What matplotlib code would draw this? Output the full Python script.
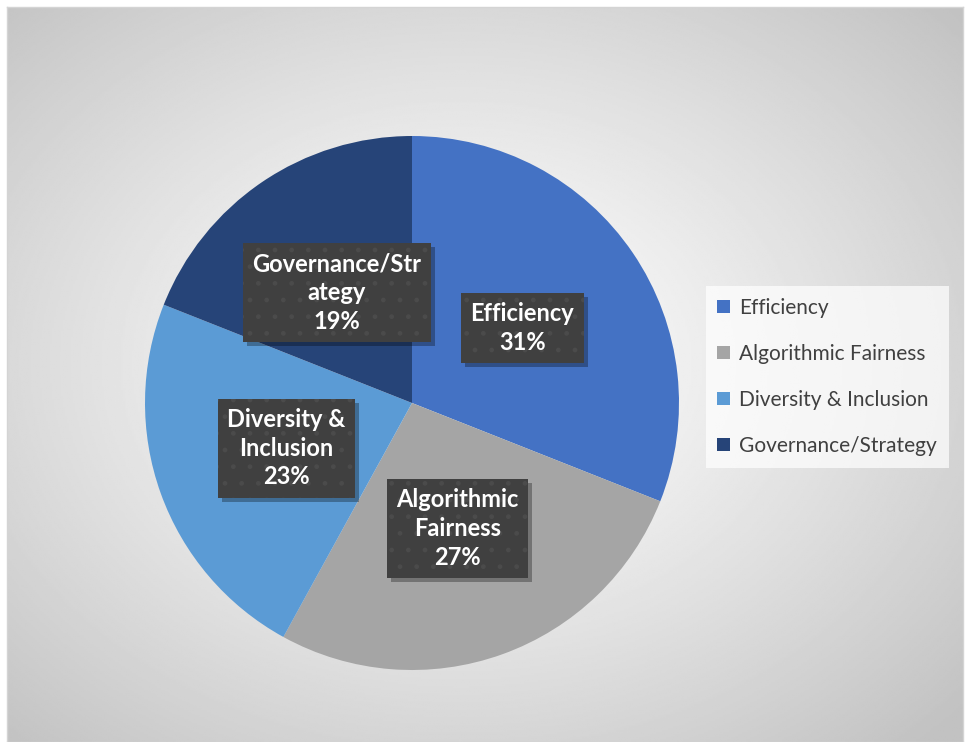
import numpy as np
import matplotlib.pyplot as plt
import matplotlib.patheffects as pe
from matplotlib.patches import Patch

categories = ["Efficiency", "Algorithmic Fairness", "Diversity & Inclusion", "Governance/Strategy"]
shares = [31, 27, 23, 19]
colors = ["#4472C4", "#A5A5A5", "#5B9BD5", "#264478"]
box_names = ["Efficiency", "Algorithmic\nFairness", "Diversity &\nInclusion", "Governance/Str\nategy"]

plt.rcParams['font.family'] = ['Lato', 'DejaVu Sans']

W, H = 966, 742
fig = plt.figure(figsize=(W / 100, H / 100), dpi=100)
fig.patch.set_facecolor("white")

# chart area with radial grey gradient
bg = fig.add_axes([7 / W, 0, (963 - 7) / W, (H - 7) / H])
yy, xx = np.mgrid[-1:1:400j, -1:1:500j]
d = np.sqrt((xx + 0.05) ** 2 + (yy + 0.03) ** 2) / np.sqrt(2)
shade = 1 - 0.24 * np.clip(d, 0, 1) ** 1.2
bg.imshow(shade, cmap="gray", vmin=0, vmax=1, aspect="auto", extent=[0, 1, 0, 1])
bg.set_xticks([])
bg.set_yticks([])
for s in bg.spines.values():
    s.set_color("#d4d4d4")
    s.set_linewidth(1)

# pie
cx, cy, r = 412, 403, 267
ax = fig.add_axes([(cx - r) / W, (H - cy - r) / H, 2 * r / W, 2 * r / H])
wedges, _, autotexts = ax.pie(shares, colors=colors, startangle=90, counterclock=False,
                              autopct="%1.0f%%", pctdistance=0.5,
                              wedgeprops=dict(linewidth=0))
ax.set_xlim(-1, 1)
ax.set_ylim(-1, 1)
ax.set_aspect("equal")

for name, t in zip(box_names, autotexts):
    t.set_text(f"{name}\n{t.get_text()}")
    t.set_color("white")
    t.set_fontweight("bold")
    t.set_fontsize(17)
    t.set_linespacing(1.3)
    t.set_ha("center")
    t.set_va("center")
    t.set_bbox(dict(boxstyle="square,pad=0.4", fc="#404040", ec="#4b4b4b", hatch=".", lw=0))
    t.get_bbox_patch().set_path_effects([
        pe.SimplePatchShadow(offset=(3, -3), shadow_rgbFace="black", alpha=0.3, hatch=None),
        pe.Normal()])

handles = [Patch(facecolor=c, edgecolor="none") for c in colors]
leg = fig.legend(handles, categories, loc="center left",
                 bbox_to_anchor=(706 / W, 1 - 377 / H), frameon=True,
                 fontsize=15, labelcolor="#404040", handlelength=0.6, handleheight=0.6,
                 handletextpad=0.45, labelspacing=1.25, borderpad=0.55, borderaxespad=0,
                 fancybox=False)
leg.get_frame().set_facecolor("white")
leg.get_frame().set_alpha(0.7)
leg.get_frame().set_edgecolor("none")

fig.savefig("out.png", dpi=100)
